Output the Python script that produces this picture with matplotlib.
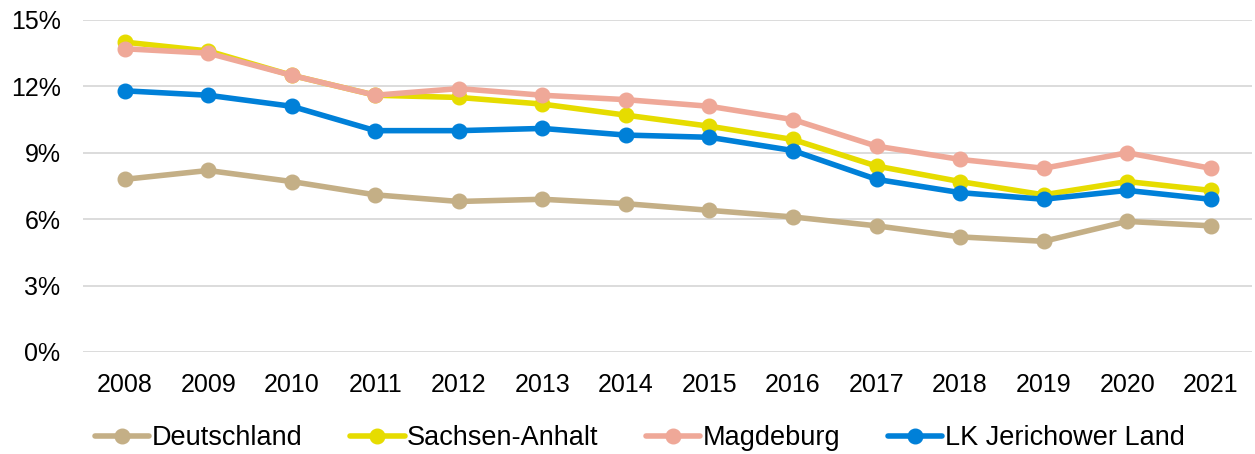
import matplotlib.pyplot as plt
from matplotlib.ticker import FuncFormatter

plt.rcParams['font.family'] = ['Liberation Sans', 'DejaVu Sans']

# data
years = ['2008', '2009', '2010', '2011', '2012', '2013', '2014',
         '2015', '2016', '2017', '2018', '2019', '2020', '2021']
deutschland = [7.8, 8.2, 7.7, 7.1, 6.8, 6.9, 6.7, 6.4, 6.1, 5.7, 5.2, 5.0, 5.9, 5.7]
sachsen_anhalt = [14.0, 13.6, 12.5, 11.6, 11.5, 11.2, 10.7, 10.2, 9.6, 8.4, 7.7, 7.1, 7.7, 7.3]
magdeburg = [13.7, 13.5, 12.5, 11.6, 11.9, 11.6, 11.4, 11.1, 10.5, 9.3, 8.7, 8.3, 9.0, 8.3]
jerichower_land = [11.8, 11.6, 11.1, 10.0, 10.0, 10.1, 9.8, 9.7, 9.1, 7.8, 7.2, 6.9, 7.3, 6.9]

series = [
    ('Deutschland', deutschland, '#C4AF86'),
    ('Sachsen-Anhalt', sachsen_anhalt, '#E6DC00'),
    ('Magdeburg', magdeburg, '#EFA898'),
    ('LK Jerichower Land', jerichower_land, '#0080D8'),
]

fig = plt.figure(figsize=(12.55, 4.54), dpi=100)
ax = fig.add_axes([0.066, 0.2247, 0.932, 0.7313])

x = range(len(years))
for name, vals, col in series:
    ax.plot(x, vals, color=col, lw=4, marker='o', ms=10.5, label=name,
            solid_capstyle='round')

ax.set_ylim(0, 15)
ax.set_yticks([0, 3, 6, 9, 12, 15])
ax.yaxis.set_major_formatter(FuncFormatter(lambda v, p: '%d%%' % v))
ax.set_xlim(-0.5, len(years) - 0.5)
ax.set_xticks(list(x))
ax.set_xticklabels(years)

ax.grid(axis='y', color='#D9D9D9', lw=1.3)
ax.set_axisbelow(True)
for s in ax.spines.values():
    s.set_visible(False)
ax.tick_params(length=0, labelsize=18, colors='#000000')
ax.tick_params(axis='x', pad=15)
ax.tick_params(axis='y', pad=16)

fig.legend(loc='center', bbox_to_anchor=(0.51, 0.035), ncol=4,
           frameon=False, fontsize=19.5, handlelength=2.0, handletextpad=0.1,
           columnspacing=1.75)

fig.savefig('out.png', dpi=100)
